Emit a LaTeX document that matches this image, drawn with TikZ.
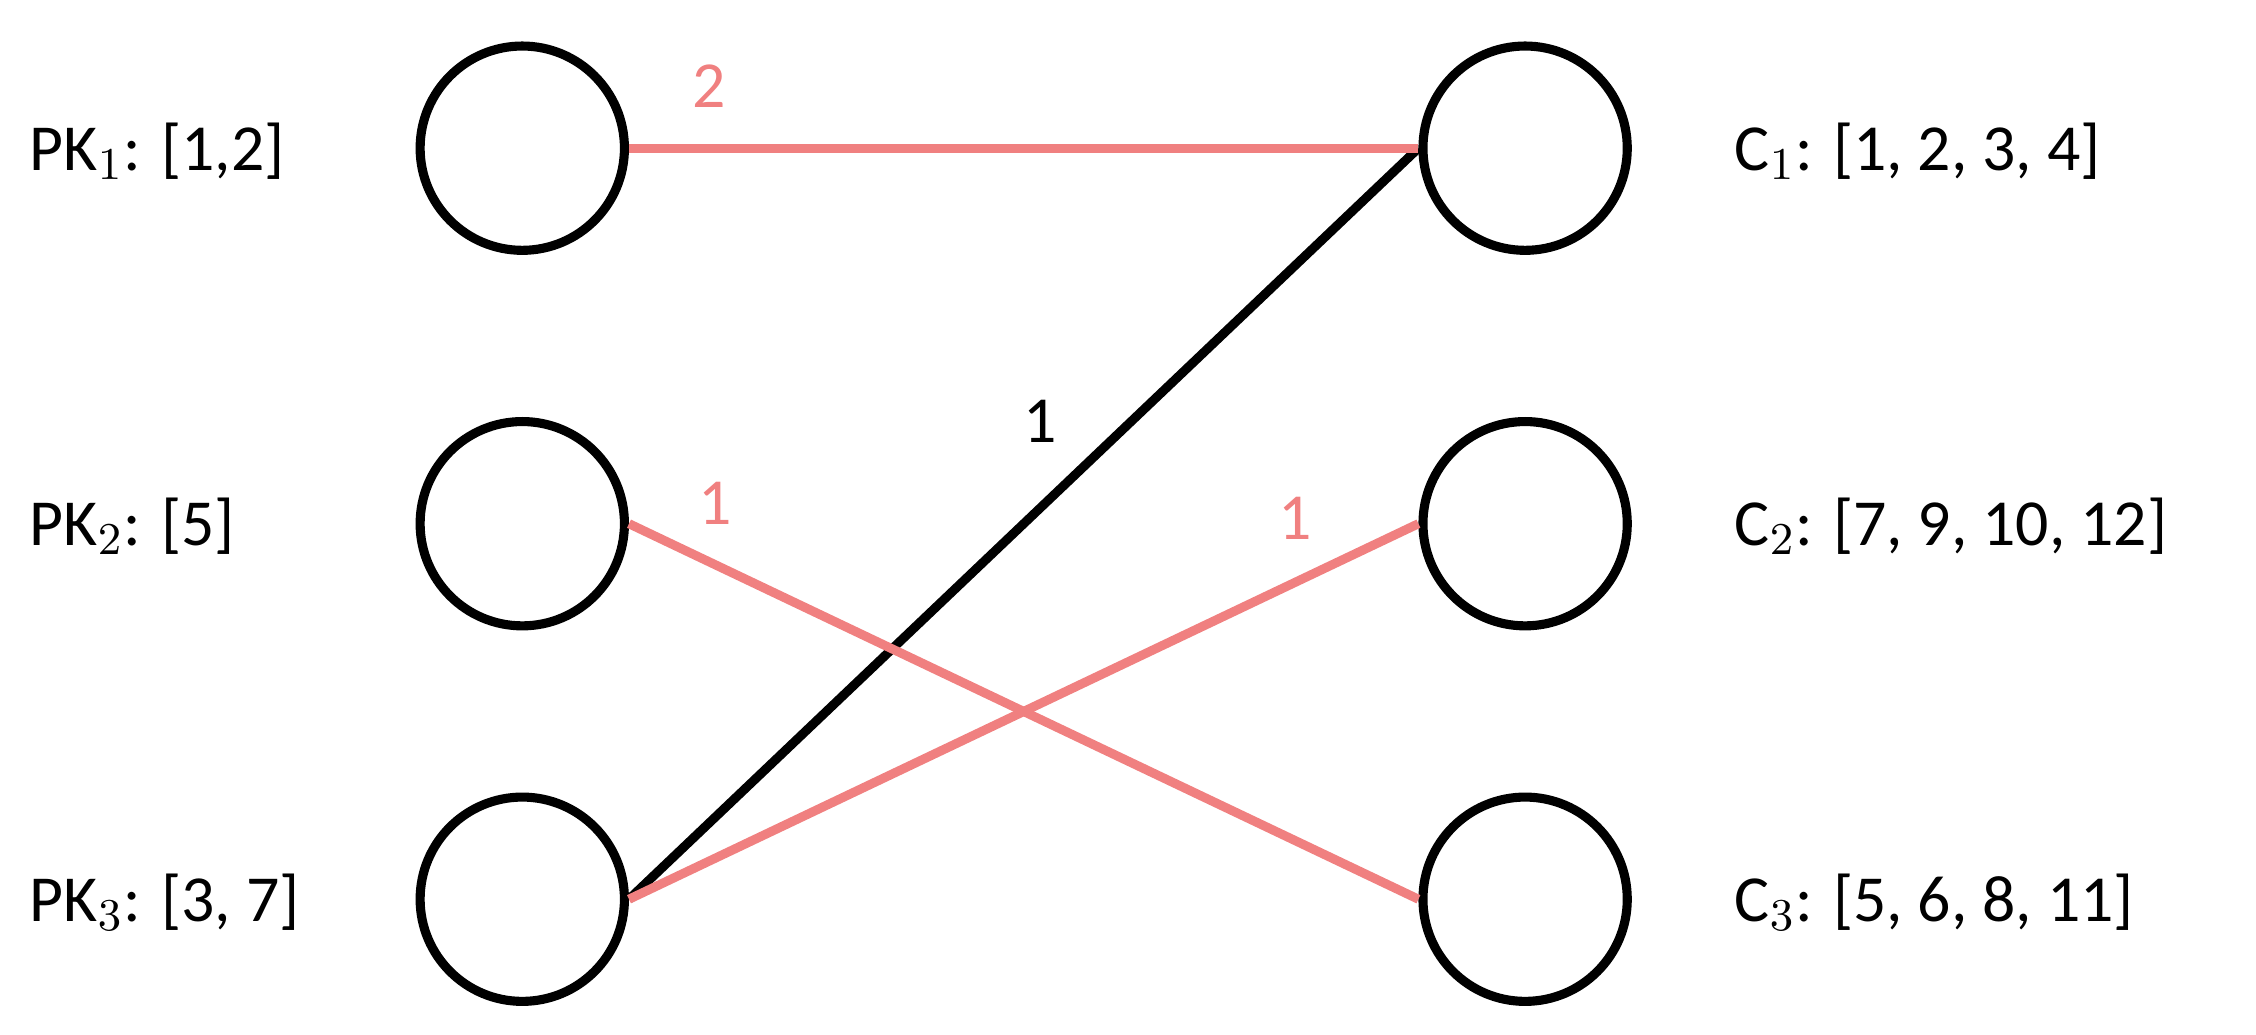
\documentclass[tikz,border=0pt]{standalone}
\usepackage{fontspec}
\setmainfont{Carlito}
\usetikzlibrary{positioning}
\definecolor{edgepink}{RGB}{240,128,128}
\tikzstyle{vertex} = [circle, draw=black, line width=1.8pt, minimum size=1.42cm, inner sep=0pt]
\tikzstyle{lbl} = [anchor=west, font=\fontsize{13pt}{15pt}\selectfont, inner sep=0pt]
\tikzstyle{wt} = [font=\fontsize{13pt}{15pt}\selectfont, inner sep=0pt]
\tikzstyle{link} = [line width=1.8pt]

\begin{document}
\begin{tikzpicture}
    \useasboundingbox (0,0) rectangle (15.68,7.19);

    \node(p1)[vertex] at (3.63,6.16) {};
    \node(p2)[vertex] at (3.63,3.55) {};
    \node(p3)[vertex] at (3.63,0.94) {};
    \node(c1)[vertex] at (10.60,6.16) {};
    \node(c2)[vertex] at (10.60,3.55) {};
    \node(c3)[vertex] at (10.60,0.94) {};

    \node(lp1)[lbl] at (0.20,6.14) {PK$_1$: [1,2]};
    \node(lp2)[lbl] at (0.20,3.53) {PK$_2$: [5]};
    \node(lp3)[lbl] at (0.20,0.92) {PK$_3$: [3, 7]};
    \node(lc1)[lbl] at (12.05,6.14) {C$_1$: [1, 2, 3, 4]};
    \node(lc2)[lbl] at (12.05,3.53) {C$_2$: [7, 9, 10, 12]};
    \node(lc3)[lbl] at (12.05,0.92) {C$_3$: [5, 6, 8, 11]};

    \draw[link, black] (p3.east) -- (c1.west);
    \draw[link, edgepink] (p1.east) -- (c1.west);
    \draw[link, edgepink] (p2.east) -- (c3.west);
    \draw[link, edgepink] (p3.east) -- (c2.west);

    \node(w1)[wt, edgepink] at (4.93,6.59) {2};
    \node(w2)[wt, black] at (7.23,4.26) {1};
    \node(w3)[wt, edgepink] at (4.97,3.69) {1};
    \node(w4)[wt, edgepink] at (9.00,3.59) {1};

\end{tikzpicture}
\end{document}
